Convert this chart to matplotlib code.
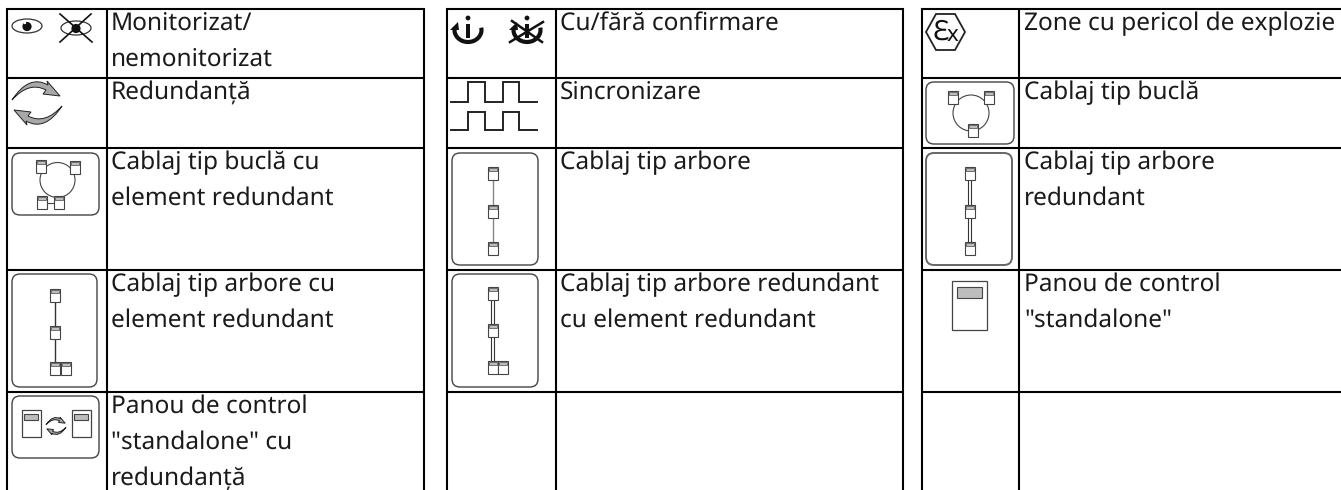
"""
plot.py
Legend table of symbols: three columns of icon + description cells.
"""
import matplotlib
matplotlib.use("Agg")
import matplotlib.pyplot as plt
from matplotlib.patches import Circle, Ellipse, Rectangle, FancyBboxPatch, Arc, PathPatch, Polygon
from matplotlib.path import Path

plt.rcParams['font.family'] = ['Noto Sans', 'DejaVu Sans']
plt.rcParams['text.hinting'] = 'none'

# table text, one list of lines per cell, by column
col1_labels = [
    ["Monitorizat/", "nemonitorizat"],
    ["Redundanță"],
    ["Cablaj tip buclă cu", "element redundant"],
    ["Cablaj tip arbore cu", "element redundant"],
    ["Panou de control", "\"standalone\" cu", "redundanță"],
]
col2_labels = [
    ["Cu/fără confirmare"],
    ["Sincronizare"],
    ["Cablaj tip arbore"],
    ["Cablaj tip arbore redundant", "cu element redundant"],
]
col3_labels = [
    ["Zone cu pericol de explozie"],
    ["Cablaj tip buclă"],
    ["Cablaj tip arbore", "redundant"],
    ["Panou de control", "\"standalone\""],
]

# grid of the table, in pixels
row_tops = [9, 78, 148, 270, 392]
table_spans = [(7, 424), (447, 903), (922, 1341)]
col_lines = [7, 107, 424, 447, 556, 903, 922, 1019]
text_lefts = [111, 560, 1024]

INK = "#111111"
EDGE = "#444444"
GREY = "#bdbdbd"

fig = plt.figure(figsize=(13.41, 4.90), dpi=100)
ax = fig.add_axes([0, 0, 1, 1])
ax.set_xlim(0, 1341)
ax.set_ylim(490, 0)
ax.axis('off')


def rounded_box(x0, y0, x1, y1, lw=1.0, color=EDGE):
    ax.add_patch(FancyBboxPatch((x0, y0), x1 - x0, y1 - y0, boxstyle="round,pad=0,rounding_size=8",
                                fc='white', ec=color, lw=lw, zorder=2))


def device(cx, cy, w=10, h=13):
    """Small detector: white box with a grey strip on top."""
    ax.add_patch(Rectangle((cx - w / 2, cy - h / 2), w, h, fc='white', ec=EDGE, lw=0.8, zorder=4))
    ax.add_patch(Rectangle((cx - w / 2 + 1, cy - h / 2 + 1), w - 2, 3, fc=GREY, ec=EDGE, lw=0.5, zorder=5))


def panel(x0, y0, x1, y1, dx0, dy0, dx1, dy1):
    ax.add_patch(Rectangle((x0, y0), x1 - x0, y1 - y0, fc='white', ec=EDGE, lw=0.9, zorder=3))
    ax.add_patch(Rectangle((dx0, dy0), dx1 - dx0, dy1 - dy0, fc=GREY, ec=EDGE, lw=0.8, zorder=4))


def redundancy_arrows(cx, cy, s=1.0):
    """Two curved grey arrows chasing each other."""
    top = [(-25, -3), (-8, -29), (11, -18), (10, -22), (23, -7), (6, -9), (9, -13), (-8, -22), (-25, -3)]
    codes = [Path.MOVETO, Path.CURVE3, Path.CURVE3, Path.LINETO, Path.LINETO, Path.LINETO, Path.LINETO,
             Path.CURVE3, Path.CURVE3]
    for sign in (1, -1):
        pts = [(cx + sign * px * s, cy + sign * py * s) for px, py in top]
        ax.add_patch(PathPatch(Path(pts, codes), fc="#a8a8a8", ec="#222222", lw=0.7, zorder=3))


def tree(x, ys, box, double=False, extra=False, lw=1.0, line_color="#333333", box_color=EDGE):
    rounded_box(*box, lw=lw, color=box_color)
    if double:
        for off in (-1.5, 1.5):
            ax.plot([x + off, x + off], [ys[0], ys[-1]], color=line_color, lw=0.8, zorder=3)
    else:
        ax.plot([x, x], [ys[0], ys[-1]], color=line_color, lw=1.0, zorder=3)
    for y in ys:
        device(x, y)
    if extra:
        device(x + 10.5, ys[-1])


def loop(cx, cy, r, devices, box):
    rounded_box(*box)
    ax.add_patch(Circle((cx, cy), r, fc='none', ec=EDGE, lw=0.8, zorder=3))
    for dx, dy in devices:
        device(dx, dy)


def sync_wave(y_low, y_high):
    xs = [451, 468, 468, 485, 485, 503, 503, 519, 519, 537]
    ys = [y_low, y_low, y_high, y_high, y_low, y_low, y_high, y_high, y_low, y_low]
    ax.plot(xs, ys, color="#222222", lw=1.4, solid_joinstyle='miter', zorder=3)


def eye(cx, cy, crossed=False):
    ax.add_patch(Ellipse((cx, cy), 30, 14, fc='none', ec="#333333", lw=0.9, zorder=3))
    ax.add_patch(Circle((cx, cy + 0.5), 4.6, fc=INK, ec='none', zorder=4))
    if crossed:
        ax.plot([cx - 16, cx + 16], [cy - 14, cy + 14], color=INK, lw=1.2, zorder=5)
        ax.plot([cx + 15, cx - 16], [cy - 14, cy + 14], color=INK, lw=1.2, zorder=5)
    else:
        ax.add_patch(Circle((cx - 2, cy - 3), 1.2, fc='white', ec='none', zorder=5))


def confirm(cx, crossed=False):
    ax.add_patch(Circle((cx, 18), 2.4, fc=INK, ec='none', zorder=4))
    ax.add_patch(Rectangle((cx - 2.2, 24), 4.4, 14, fc=INK, ec='none', zorder=4))
    ax.add_patch(Arc((cx, 30), 27, 24, theta1=-10, theta2=190, color=INK, lw=3.0, zorder=4))
    ax.add_patch(Polygon([(cx - 18, 30), (cx - 9, 30), (cx - 10, 22)], fc=INK, ec='none', zorder=4))
    if crossed:
        ax.plot([cx - 17, cx + 16], [42, 22], color=INK, lw=1.8, zorder=5)
        ax.plot([cx - 15, cx + 15], [21, 42], color=INK, lw=1.8, zorder=5)


# table lines
for y in row_tops:
    for x0, x1 in table_spans:
        ax.plot([x0 - 1, x1 + 1], [y, y], color='black', lw=1.5, solid_capstyle='butt', zorder=1)
for x in col_lines:
    ax.plot([x, x], [8, 490], color='black', lw=1.5, solid_capstyle='butt', zorder=1)

# cell text
for left, labels in zip(text_lefts, [col1_labels, col2_labels, col3_labels]):
    for top, lines in zip(row_tops, labels):
        for i, line in enumerate(lines):
            ax.text(left, top + 21 + i * 36, line, fontsize=17.6, color="#1a1a1a", ha='left', va='baseline')

# column 1 icons
eye(27, 26)
eye(76, 28, crossed=True)
redundancy_arrows(37, 103)
loop(57.5, 180, 17.5, [(41, 166), (75, 167), (42, 202), (59, 202)], (12, 153, 99, 215))
ax.plot([42, 59], [203, 203], color=EDGE, lw=0.8, zorder=3)
tree(55.5, [295, 332, 368], (12, 274, 97, 387), extra=True)
rounded_box(12, 396, 99, 458)
panel(22, 410, 41, 437, 24, 414, 38, 420)
panel(72, 410, 91, 437, 74, 414, 88, 420)
redundancy_arrows(56, 426, 0.4)

# column 2 icons
confirm(468)
confirm(527, crossed=True)
sync_wave(102, 82)
sync_wave(130, 112)
tree(493, [173, 211, 248], (452, 153, 538, 265), lw=1.0, line_color="#888888")
tree(493, [293, 330, 367], (452, 274, 538, 387), double=True, extra=True)

# column 3 icons
ax.add_patch(Polygon([(926, 32), (936, 14), (955, 14), (965, 32), (955, 50), (936, 50)],
                     closed=True, fc='white', ec="#222222", lw=1.3, zorder=3))
ax.text(941, 33, "Ɛ", fontsize=20, color=INK, ha='center', va='center', zorder=4)
ax.text(952.5, 35, "x", fontsize=16, color=INK, ha='center', va='center', zorder=4)
loop(971, 113, 18, [(953, 98), (989, 98), (973, 130)], (926, 82, 1014, 144))
tree(970, [173, 211, 248], (926, 153, 1012, 265), double=True, lw=1.4, line_color="#333333", box_color="#666666")
panel(952, 281, 987, 330, 957, 287, 982, 298)

plt.savefig("out.png", dpi=100)
plt.close()
